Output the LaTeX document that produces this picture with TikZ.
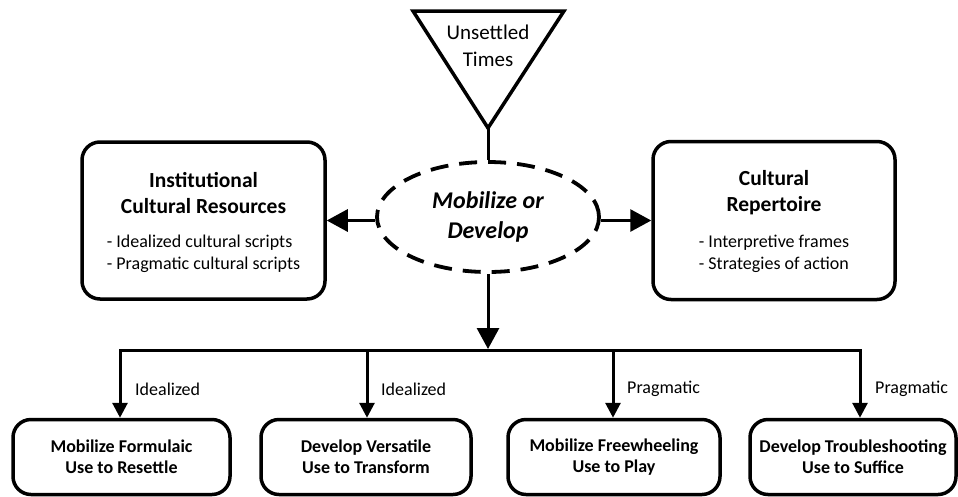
\documentclass[tikz,border=0pt]{standalone}
\usepackage{fontspec}
\setmainfont{Carlito}
\usetikzlibrary{arrows.meta,shapes.geometric}
\begin{document}
\begin{tikzpicture}[x=1pt,y=-1pt,
  box/.style={draw,line width=3.5pt,rounded corners=18pt,inner sep=0pt},
  conn/.style={line width=3pt},
  bigarr/.style={conn,-{Triangle[length=21pt,width=22pt]}},
  arr/.style={conn,-{Triangle[length=15pt,width=15pt]}},
  lbl/.style={font=\fontsize{18}{22}\selectfont,inner sep=0pt},
  ttl/.style={font=\fontsize{21.5}{26}\selectfont\bfseries,align=center,inner sep=0pt},
  body/.style={font=\fontsize{18}{22}\selectfont,align=left,inner sep=0pt},
  btxt/.style={font=\fontsize{18}{21}\selectfont\bfseries,align=center,inner sep=0pt}]
\useasboundingbox (0,0) rectangle (958,496);
% triangle
\coordinate (tl) at (413,11);
\coordinate (tr) at (564,11);
\coordinate (apex) at (488,128);
\draw[line width=3.5pt,line join=miter] (tl) -- (tr) -- (apex) -- cycle;
\node[font=\fontsize{21}{27}\selectfont,align=center,inner sep=0pt] (tt) at (488,46) {Unsettled\\Times};
% ellipse
\node[ellipse,draw,line width=3.8pt,dash pattern=on 18pt off 11pt,minimum width=222pt,minimum height=110pt,inner sep=0pt,
  font=\fontsize{24}{30}\selectfont\bfseries\itshape,align=center] (ell) at (488,217) {Mobilize or\\Develop};
\draw[conn] (apex) -- (ell.north);
% side boxes
\node[box,minimum width=243pt,minimum height=157pt] (left) at (203.5,220.5) {};
\node[ttl] (lt) at (203.5,193) {Institutional\\Cultural Resources};
\node[body] (lb) at (203.5,254) {- Idealized cultural scripts\\- Pragmatic cultural scripts};
\node[box,minimum width=242pt,minimum height=158pt] (right) at (774,220.5) {};
\node[ttl] (rt) at (774,193) {Cultural\\Repertoire};
\node[body] (rb) at (774,254) {- Interpretive frames\\- Strategies of action};
\coordinate (ew) at (ell.west |- left.east);
\coordinate (ee) at (ell.east |- right.west);
\draw[bigarr] (ew) -- (left.east);
\draw[bigarr] (ee) -- (right.west);
% bottom
\coordinate (bar) at (488,349);
\draw[bigarr] (ell.south) -- (bar);
\coordinate (b1) at (120,350);
\coordinate (b2) at (367,350);
\coordinate (b3) at (613,350);
\coordinate (b4) at (860,350);
\draw[conn,line cap=rect] (b1) -- (b4);
\node[box,minimum width=217pt,minimum height=75pt] (m1) at (121.5,457) {};
\node[box,minimum width=210pt,minimum height=75pt] (m2) at (366,457) {};
\node[box,minimum width=212pt,minimum height=75pt] (m3) at (614,457) {};
\node[box,minimum width=206pt,minimum height=75pt] (m4) at (853,457) {};
\node[btxt] at (m1) {Mobilize Formulaic\\Use to Resettle};
\node[btxt] at (m2) {Develop Versatile\\Use to Transform};
\node[btxt] at (m3) {Mobilize Freewheeling\\Use to Play};
\node[btxt] at (m4) {Develop Troubleshooting\\Use to Suffice};
\draw[arr] (b1) -- (b1 |- m1.north);
\draw[arr] (b2) -- (b2 |- m2.north);
\draw[arr] (b3) -- (b3 |- m3.north);
\draw[arr] (b4) -- (b4 |- m4.north);
\node[lbl,anchor=west] (l1) at (135,389) {Idealized};
\node[lbl,anchor=west] (l2) at (381,389) {Idealized};
\node[lbl,anchor=west] (l3) at (627,389) {Pragmatic};
\node[lbl,anchor=west] (l4) at (875,389) {Pragmatic};
\end{tikzpicture}
\end{document}
